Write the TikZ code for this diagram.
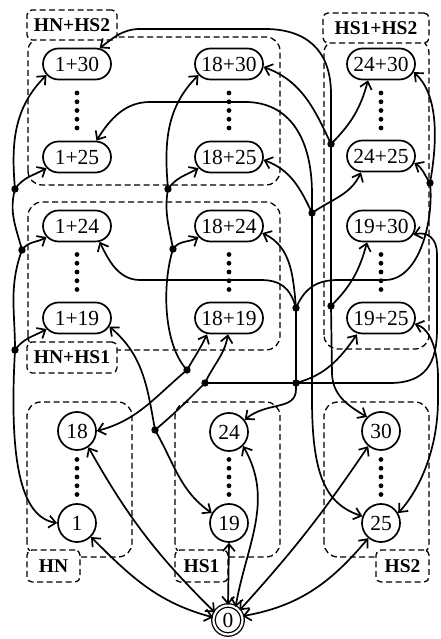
\documentclass[tikz,border=0pt]{standalone}
\usepackage{fontspec}
\setmainfont{Liberation Serif}
\usetikzlibrary{arrows.meta, shapes.misc}

\tikzset{
  pill/.style={draw, rounded rectangle, line width=1.7pt, minimum width=68pt, minimum height=31pt, inner sep=0pt, font=\fontsize{21.5}{24}\selectfont},
  state/.style={draw, circle, line width=1.7pt, minimum size=38pt, inner sep=0pt, font=\fontsize{21.5}{24}\selectfont},
  group/.style={draw, dash pattern=on 6pt off 3.5pt, line width=1.3pt, rounded corners=14pt},
  tag/.style={draw, dash pattern=on 6pt off 3.5pt, line width=1.3pt, fill=white, rounded corners=5pt, inner sep=0pt, font=\fontsize{19.5}{22}\selectfont\bfseries},
  flow/.style={line width=1.7pt, -{Straight Barb[length=7pt,width=12pt]}},
  twoway/.style={line width=1.7pt, {Straight Barb[length=7pt,width=12pt]}-{Straight Barb[length=7pt,width=12pt]}},
  link/.style={line width=1.7pt},
}

\begin{document}
\begin{tikzpicture}[x=1pt, y=1pt]
    \useasboundingbox (0,0) rectangle (440,639);

    % Define column positions
    \pgfmathsetmacro{\xl}{77}
    \pgfmathsetmacro{\xm}{229}
    \pgfmathsetmacro{\xr}{381}

    % Draw groups
    \draw[group] (28,454) rectangle (280,602);
    \draw[group] (28,289) rectangle (280,437);
    \draw[group] (324,290) rectangle (429,600);
    \draw[group] (27,82) rectangle (132,237);
    \draw[group] (175,82) rectangle (280,237);
    \draw[group] (324,82) rectangle (429,237);

    % Group labels
    \node[tag, minimum width=90pt, minimum height=30pt] (tHNHSb) at (72,614) {HN+HS2};
    \node[tag, minimum width=90pt, minimum height=31pt] (tHNHSa) at (72,281.5) {HN+HS1};
    \node[tag, minimum width=106pt, minimum height=30pt] (tHSab) at (376,611) {HS1+HS2};
    \node[tag, minimum width=53pt, minimum height=32pt] (tHN) at (53.5,73) {HN};
    \node[tag, minimum width=53pt, minimum height=32pt] (tHSa) at (201.5,73) {HS1};
    \node[tag, minimum width=53pt, minimum height=32pt] (tHSb) at (402.5,73) {HS2};

    % Double failure states
    \node[pill] (n1p30) at (\xl,575) {1+30};
    \node[pill] (n1p25) at (\xl,482) {1+25};
    \node[pill] (n1p24) at (\xl,413) {1+24};
    \node[pill] (n1p19) at (\xl,321) {1+19};
    \node[pill] (n18p30) at (\xm,575) {18+30};
    \node[pill] (n18p25) at (\xm,482) {18+25};
    \node[pill] (n18p24) at (\xm,413) {18+24};
    \node[pill] (n18p19) at (\xm,321) {18+19};
    \node[pill] (n24p30) at (\xr,575) {24+30};
    \node[pill] (n24p25) at (\xr,483) {24+25};
    \node[pill] (n19p30) at (\xr,413) {19+30};
    \node[pill] (n19p25) at (\xr,321) {19+25};

    % Single failure states
    \node[state] (n18) at (\xl,208) {18};
    \node[state] (n1) at (\xl,116) {1};
    \node[state] (n24) at (\xm,207) {24};
    \node[state] (n19) at (\xm,116) {19};
    \node[state] (n30) at (\xr,208) {30};
    \node[state] (n25) at (\xr,116) {25};
    \node[circle, draw, double, double distance=2.2pt, line width=1.3pt, minimum size=29pt, inner sep=0pt, font=\fontsize{21.5}{24}\selectfont] (n0) at (228,19) {0};

    % Dots between states
    \foreach \x in {\xl,\xm,\xr}
      \foreach \ym in {528.5,367,162}
        \foreach \k in {-2,...,2}
          \fill (\x,\ym+\k*8.75) circle (2.4);

    % Junctions
    \coordinate (j1a) at (15,450);
    \coordinate (j1b) at (22,389);
    \coordinate (j1c) at (15,289);
    \coordinate (j18a) at (168,450);
    \coordinate (j18b) at (173,390);
    \coordinate (j18c) at (187,269);
    \coordinate (j19a) at (155,209);
    \coordinate (j19b) at (205,256);
    \coordinate (j19c) at (296,256);
    \coordinate (j24a) at (296,331);
    \coordinate (j24b) at (430,456);
    \coordinate (j25a) at (312,426);
    \coordinate (j30a) at (331,495);
    \coordinate (j30b) at (331,333);

    % Bundle of state 1
    \draw[flow] (j1a) to[out=95,in=225] (n1p30.200);
    \draw[flow] (j1a) to[out=55,in=210] (n1p25.200);
    \draw[link] (j1a) to[out=-105,in=105] (j1b);
    \draw[flow] (j1b) to[out=55,in=210] (n1p24.200);
    \draw[link] (j1b) to[out=-110,in=90] (j1c);
    \draw[flow] (j1c) to[out=55,in=210] (n1p19.200);
    \draw[flow] (j1c) .. controls (9,180) and (20,122) .. (n1.west);

    % Bundle of state 18
    \draw[flow] (j18a) to[out=95,in=225] (n18p30.200);
    \draw[flow] (j18a) to[out=55,in=210] (n18p25.200);
    \draw[link] (j18a) to[out=-100,in=100] (j18b);
    \draw[flow] (j18b) to[out=55,in=210] (n18p24.200);
    \draw[link] (j18b) .. controls (162,355) and (163,295) .. (j18c);
    \draw[flow] (j18c) to[out=60,in=-115] ([xshift=-22pt]n18p19.south);
    \draw[flow] (j18c) to[out=-140,in=15] (n18.east);

    % Bundle of state 19
    \draw[flow] (j19a) to[out=-60,in=145] (n19.150);
    \draw[flow] (j19a) to[out=100,in=-40] (n1p19.-15);
    \draw[link] (j19a) to[out=40,in=-135] (j19b);
    \draw[flow] (j19b) to[out=65,in=-100] ([xshift=-1pt]n18p19.south);
    \draw[link] (j19b) -- (j19c);
    \draw[flow] (j19c) to[out=15,in=-125] ([xshift=-24pt]n19p25.south);
    \draw[flow] (j19c) -- (390,256) .. controls (425,256) and (437,275) .. (437,310) -- (437,385) .. controls (437,400) and (428,408) .. (n19p30.-15);

    % Bundle of state 24
    \draw[flow] (j24a) .. controls (290,352) and (280,359) .. (260,359) -- (140,359) .. controls (118,359) and (108,380) .. (n1p24.-35);
    \draw[flow] (j24a) to[out=95,in=-25] (n18p24.-12);
    \draw[link] (j24a) .. controls (305,352) and (318,359) .. (338,359) -- (385,359) .. controls (420,359) and (434,420) .. (j24b);
    \draw[flow] (j24b) .. controls (438,500) and (438,545) .. (n24p30.-14);
    \draw[flow] (j24b) to[out=125,in=-30] (n24p25.-12);
    \draw[flow] (j24a) -- (296,250) .. controls (296,228) and (268,238) .. (n24.38);

    % Bundle of state 25
    \draw[flow] (j25a) -- (312,445) .. controls (312,500) and (290,537) .. (245,537) -- (150,537) .. controls (125,537) and (110,520) .. (n1p25.40);
    \draw[flow] (j25a) to[out=115,in=-20] (n18p25.-5);
    \draw[flow] (j25a) to[out=35,in=-115] ([xshift=-20pt]n24p25.south);
    \draw[flow] (j25a) -- (312,240) .. controls (312,165) and (325,135) .. (n25.160);
    \draw[twoway] (n19p25.-10) .. controls (430,310) and (438,290) .. (438,260) -- (438,240) .. controls (438,190) and (420,150) .. (n25.30);

    % Bundle of state 30
    \draw[flow] (j30a) -- (331,545) .. controls (331,590) and (305,610) .. (265,610) -- (140,610) .. controls (122,610) and (112,600) .. (n1p30.35);
    \draw[flow] (j30a) to[out=115,in=-20] (n18p30.-5);
    \draw[flow] (j30a) to[out=45,in=-105] ([xshift=-13pt]n24p30.south);
    \draw[link] (j30a) -- (j30b);
    \draw[flow] (j30b) to[out=45,in=-105] ([xshift=-14pt]n19p30.south);
    \draw[flow] (j30b) -- (332,265) .. controls (333,245) and (345,235) .. (n30.135);

    % Mark junctions
    \foreach \j in {j1a,j1b,j1c,j18a,j18b,j18c,j19a,j19b,j19c,j24a,j24b,j25a,j30a,j30b}
      \fill (\j) circle (3.7);

    % Transitions with state 0
    \draw[twoway] (n18.-55) to[bend right=8] (n0.150);
    \draw[twoway] (n1.-45) to[out=-45,in=165] (n0.170);
    \draw[twoway] (n19.south) -- (n0.north);
    \draw[twoway] (n24.-45) to[out=-60,in=80] (n0.60);
    \draw[twoway] (n30.-130) to[bend left=4] (n0.40);
    \draw[twoway] (n25.-130) to[out=-130,in=10] (n0.15);
\end{tikzpicture}
\end{document}
